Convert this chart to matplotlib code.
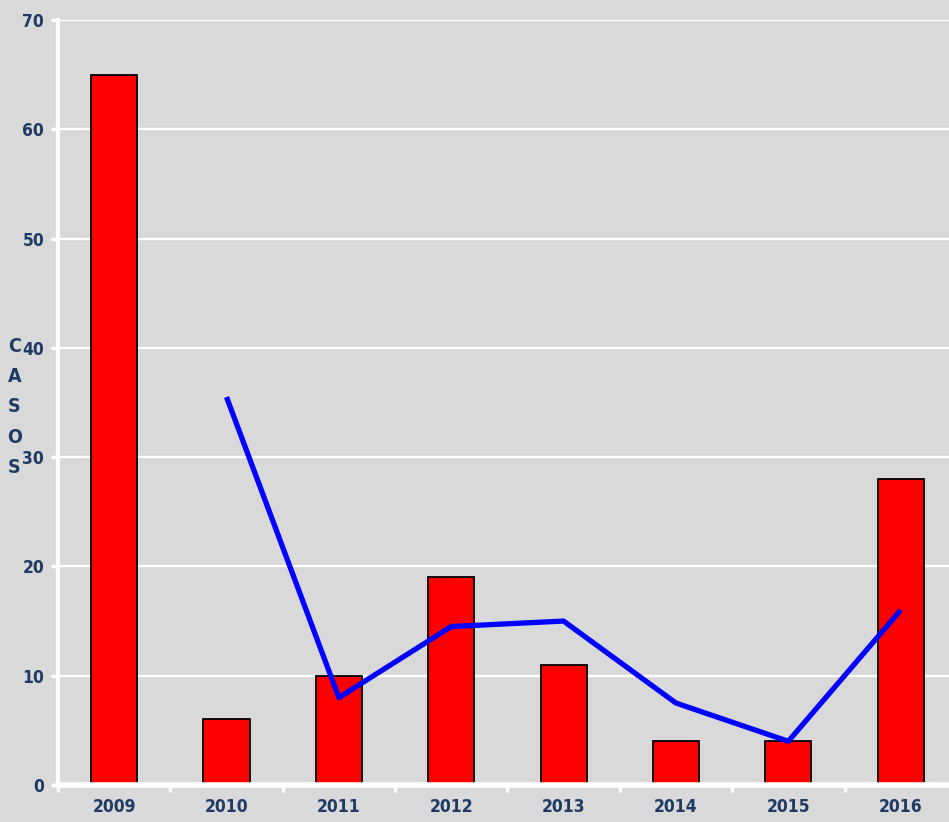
import matplotlib.pyplot as plt
import numpy as np

years = ["2009", "2010", "2011", "2012", "2013", "2014", "2015", "2016"]
casos = [65, 6, 10, 19, 11, 4, 4, 28]
media_x = ["2010", "2011", "2012", "2013", "2014", "2015", "2016"]
media = [35.5, 8, 14.5, 15, 7.5, 4, 16]
yticks = [0, 10, 20, 30, 40, 50, 60, 70]

BG = "#d9d9d9"
TXT = "#1f3b63"
FONT = ["DejaVu Sans"]

fig = plt.figure(figsize=(9.49, 8.22), dpi=100, facecolor=BG)
ax = fig.add_axes([0.0611, 0.045, 0.9389, 0.9307])
ax.set_facecolor(BG)

x = np.arange(len(years))
ax.bar(x, casos, width=0.41, color="red", edgecolor="black", linewidth=1.3, zorder=3)
xm = [years.index(y) for y in media_x]
ax.plot(xm, media, color="#0000ff", linewidth=3.8, zorder=4, solid_capstyle="butt")

ax.set_yticks(yticks)
ax.set_xticks(x)
ax.set_xticklabels(years)
ax.set_xticks(np.arange(-0.5, 7.5, 1), minor=True)
ax.set_ylim(0, 70)
ax.set_xlim(-0.5, 7.43)
ax.grid(axis="y", color="white", linewidth=1.6, zorder=1)
ax.set_axisbelow(True)

for s in ["top", "right"]:
    ax.spines[s].set_visible(False)
ax.spines["left"].set_color("white")
ax.spines["left"].set_linewidth(3)
ax.spines["bottom"].set_color("white")
ax.spines["bottom"].set_linewidth(4)
ax.spines["bottom"].set_zorder(5)

ax.tick_params(axis="x", which="major", length=0, pad=9)
ax.tick_params(axis="x", which="minor", length=5, width=2.5, color="white", direction="out")
ax.tick_params(axis="y", length=5, width=2.5, color="white", pad=5)

for lab in ax.get_xticklabels():
    lab.set_family(FONT)
    lab.set_stretch("condensed")
    lab.set_fontweight("bold")
    lab.set_fontsize(12.5)
    lab.set_color(TXT)
for lab in ax.get_yticklabels():
    lab.set_family(FONT)
    lab.set_stretch("condensed")
    lab.set_fontweight("bold")
    lab.set_fontsize(12.5)
    lab.set_color(TXT)

fig.text(0.015, 0.505, "C\nA\nS\nO\nS", ha="center", va="center", color=TXT,
         family=FONT, stretch="condensed", fontweight="bold", fontsize=14,
         linespacing=1.75)

fig.savefig("out.png", dpi=100, facecolor=BG)
